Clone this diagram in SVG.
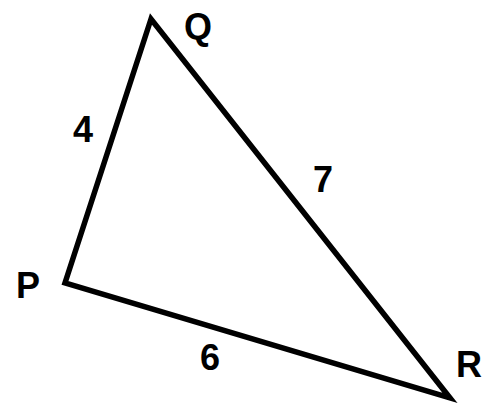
<svg xmlns="http://www.w3.org/2000/svg" width="483" height="405" viewBox="0 0 483 405">
<style>
.lbl{font-family:"Liberation Sans",Arial,sans-serif;font-weight:bold;font-size:36px;fill:#000}
.edge{fill:none;stroke:#000;stroke-width:5.5;stroke-linejoin:miter;stroke-miterlimit:10}
</style>
<rect width="483" height="405" fill="#fff"/>
<g id="connectors">
<polygon class="edge" points="151,19 65,283 450,398"/>
</g>
<g id="node-Q"><text class="lbl" x="184" y="39">Q</text></g>
<g id="node-P"><text class="lbl" x="16" y="298">P</text></g>
<g id="node-R"><text class="lbl" x="456" y="377">R</text></g>
<g id="label-4"><text class="lbl" x="83" y="142" text-anchor="middle">4</text></g>
<g id="label-7"><text class="lbl" x="323" y="192" text-anchor="middle">7</text></g>
<g id="label-6"><text class="lbl" x="210" y="370" text-anchor="middle">6</text></g>
</svg>
